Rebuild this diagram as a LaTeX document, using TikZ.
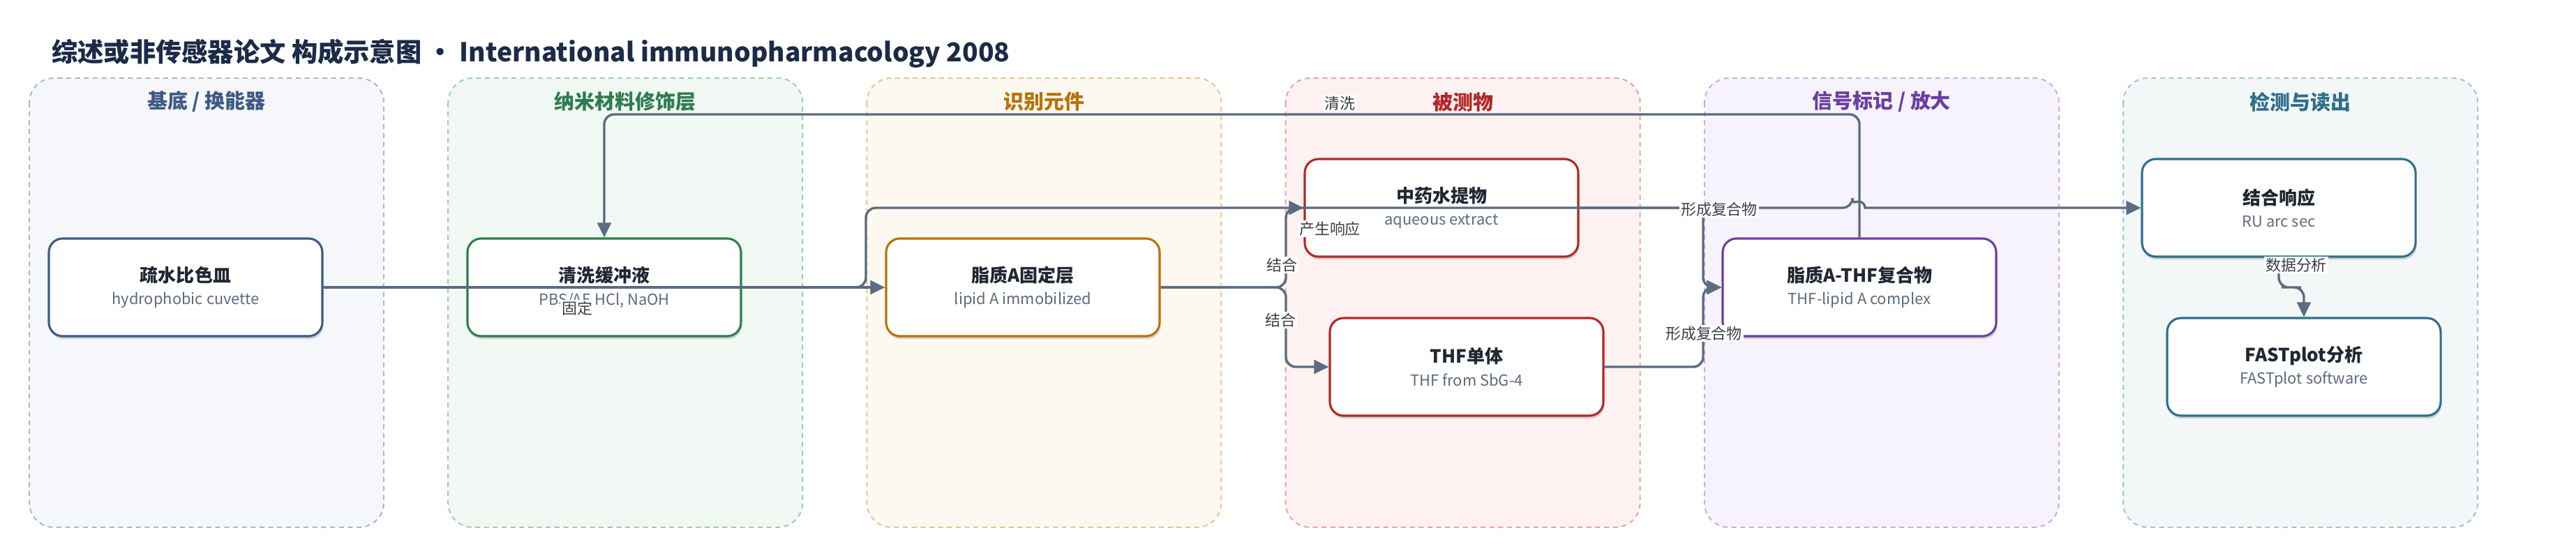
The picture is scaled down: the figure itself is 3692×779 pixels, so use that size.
\documentclass[tikz,border=0pt]{standalone}
\usepackage{fontspec}
\setmainfont{Noto Sans CJK SC}
\usetikzlibrary{arrows.meta,shadows}

\definecolor{fillA}{HTML}{F5F7FB}
\definecolor{fillB}{HTML}{F1F8F3}
\definecolor{fillC}{HTML}{FDF8F0}
\definecolor{fillD}{HTML}{FDF2F1}
\definecolor{fillE}{HTML}{F7F3FC}
\definecolor{fillF}{HTML}{F3F7F8}
\definecolor{lineA}{HTML}{A9B6CB}
\definecolor{lineB}{HTML}{9FCBAE}
\definecolor{lineC}{HTML}{E8C48E}
\definecolor{lineD}{HTML}{E8A3A3}
\definecolor{lineE}{HTML}{C8ABE3}
\definecolor{lineF}{HTML}{A3C3CF}
\definecolor{inkA}{HTML}{3F5A84}
\definecolor{inkB}{HTML}{2E7D4E}
\definecolor{inkC}{HTML}{B9720C}
\definecolor{inkD}{HTML}{B22828}
\definecolor{inkE}{HTML}{6B3FA0}
\definecolor{inkF}{HTML}{2F6F8A}
\definecolor{titleink}{HTML}{1B2B48}
\definecolor{nodeink}{HTML}{1F2733}
\definecolor{subink}{HTML}{5F6B7A}
\definecolor{linkgray}{HTML}{5B6B80}
\definecolor{labelink}{HTML}{3A3F47}

\newcommand{\boxtext}[2]{{\fontsize{18.5pt}{22pt}\selectfont\bfseries\color{nodeink}#1}\\{\color{subink}#2}}

\begin{document}
\begin{tikzpicture}[x=0.25mm,y=-0.25mm,
    panel/.style={line width=1.4pt, dash pattern=on 5pt off 4pt, rounded corners=25pt},
    paneltitle/.style={font=\fontsize{20.6pt}{24pt}\selectfont\bfseries},
    box/.style={line width=2.2pt, rounded corners=14pt, fill=white, minimum width=98mm,
        minimum height=35mm, align=center, inner sep=0pt,
        font=\fontsize{15.6pt}{23pt}\selectfont,
        drop shadow={shadow xshift=1pt, shadow yshift=-3pt, opacity=0.15, fill=black}},
    link/.style={draw=linkgray, line width=2.4pt, rounded corners=10pt,
        -{Triangle[length=15pt,width=14pt]}},
    lbl/.style={fill=white, inner sep=1.5pt, text=labelink,
        font=\fontsize{15.6pt}{18pt}\selectfont}]

        \useasboundingbox (0,0) rectangle (3692,779);

        % Title
        \node[anchor=west, inner sep=0pt, text=titleink,
            font=\fontsize{26.5pt}{32pt}\selectfont\bfseries] (title) at (74,77)
            {综述或非传感器论文 构成示意图 • International immunopharmacology 2008};

        % Panels
        \foreach \k/\ttl [count=\i from 0] in {A/{基底 / 换能器}, B/纳米材料修饰层, C/识别元件,
                D/被测物, E/{信号标记 / 放大}, F/检测与读出}{
            \draw[panel, fill=fill\k, draw=line\k] ({42+600.2*\i},112) rectangle ++(508,644);
            \node[paneltitle, text=ink\k] (t\k) at ({296+600.2*\i},146) {\ttl};
 }

        % Nodes
        \node[box, draw=inkA] (cuvette) at (266,412) {\boxtext{疏水比色皿}{hydrophobic cuvette}};
        \node[box, draw=inkB] (buffer) at (866,412) {\boxtext{清洗缓冲液}{PBS/AE HCl, NaOH}};
        \node[box, draw=inkC] (lipid) at (1466,412) {\boxtext{脂质A固定层}{lipid A immobilized}};
        \node[box, draw=inkD] (extract) at (2066,298) {\boxtext{中药水提物}{aqueous extract}};
        \node[box, draw=inkD] (thf) at (2102,526) {\boxtext{THF单体}{THF from SbG-4}};
        \node[box, draw=inkE] (complex) at (2665,412) {\boxtext{脂质A-THF复合物}{THF-lipid A complex}};
        \node[box, draw=inkF] (response) at (3266,298) {\boxtext{结合响应}{RU arc sec}};
        \node[box, draw=inkF] (fastplot) at (3302,526) {\boxtext{FASTplot分析}{FASTplot software}};

        \coordinate (up) at (1241,412);
        \coordinate (split) at (1843,412);
        \coordinate (mergeT) at (2441,298);
        \coordinate (mergeB) at (2441,526);
        \coordinate (top) at (2665,164);
        \coordinate (hop) at (2655,298);
        \coordinate (mid) at (3284,412);

        % Connectors
        \draw[link] (complex.north) -- (top) -| (buffer.north);
        \draw[link] (cuvette.east) -- (lipid.west);
        \draw[link] (cuvette.east) -- (up) |- (hop) [sharp corners]
            arc[start angle=180, end angle=360, radius=9] -- (response.west);
        \draw[link] (lipid.east) -- (split) |- (extract.west);
        \draw[link] (lipid.east) -- (split) |- (thf.west);
        \draw[link] (extract.east) -- (mergeT) |- (complex.west);
        \draw[link] (thf.east) -- (mergeB) |- (complex.west);
        \draw[link] (response.south) |- (mid) -| (fastplot.north);

        % Labels
        \node[lbl] (lfix) at (827,442) {固定};
        \node[lbl] (lresp) at (1906,328) {产生响应};
        \node[lbl] (lbindA) at (1837,380) {结合};
        \node[lbl] (lbindB) at (1835,459) {结合};
        \node[lbl] (lformA) at (2464,300) {形成复合物};
        \node[lbl] (lformB) at (2442,478) {形成复合物};
        \node[lbl] (lwash) at (1920,148) {清洗};
        \node[lbl] (lana) at (3291,380) {数据分析};

        \end{tikzpicture}
\end{document}
